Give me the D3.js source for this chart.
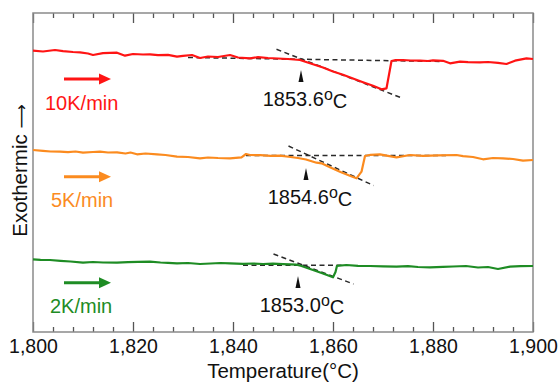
<!DOCTYPE html>
<html>
<head>
<meta charset="utf-8">
<script src="https://cdn.jsdelivr.net/npm/d3@7"></script>
<style>
  body { margin: 0; background: #fff; }
  text { font-family: "Liberation Sans", Arial, sans-serif; }
</style>
</head>
<body>
<svg id="chart"></svg>
<script>
// DSC traces (signal in arbitrary units)
const rate10 = [[1800,28.13],[1802,28.05],[1804.4,28.20],[1806,28.08],[1808,28.0],[1809.4,27.97],[1811,27.85],[1812,27.70],[1814,27.88],[1816.8,27.93],[1818.4,27.63],[1820,27.80],[1822,27.75],[1823.4,27.77],[1825,27.68],[1827,27.72],[1828.8,27.53],[1830,27.62],[1831.8,27.70],[1833.4,27.40],[1835,27.55],[1837,27.50],[1839.4,27.70],[1841,27.45],[1843.4,27.37],[1845,27.48],[1847,27.40],[1849,27.35],[1851,27.30],[1853.4,27.20],[1856,26.78],[1858,26.45],[1860,26.05],[1862,25.72],[1864,25.35],[1866,24.98],[1868,24.62],[1869.7,24.27],[1870.7,24.37],[1871.7,27.10],[1872.5,27.18],[1874,27.20],[1875.5,27.15],[1877.4,27.13],[1879,27.10],[1880,27.17],[1882,27.12],[1883.4,26.87],[1885.4,27.03],[1887,26.98],[1889.4,26.97],[1891,27.0],[1893,26.92],[1894.7,26.80],[1896.4,27.13],[1898.7,27.37],[1900,27.30]];
const rate5 = [[1800,18.20],[1802,18.12],[1803.5,18.05],[1805.4,18.03],[1807,17.98],[1808.5,18.05],[1810,17.93],[1812,18.0],[1813.4,18.03],[1815,17.95],[1816.8,17.97],[1818.5,17.85],[1819.5,17.95],[1820.8,17.77],[1822.5,17.85],[1824.8,17.77],[1826.5,17.70],[1828.8,17.53],[1831,17.50],[1833.4,17.37],[1835,17.45],[1837,17.40],[1839.4,17.37],[1841.7,17.47],[1842.6,17.80],[1843.4,17.70],[1845.5,17.68],[1847.5,17.62],[1849.4,17.63],[1851.5,17.50],[1853,17.40],[1854.6,17.25],[1856.7,16.93],[1857.7,16.87],[1859.5,16.45],[1861.5,16.00],[1863.5,15.60],[1864.7,15.37],[1865.7,16.03],[1866.4,17.60],[1867.5,17.72],[1869.4,17.77],[1871,17.62],[1872.7,17.47],[1875.4,17.70],[1878,17.62],[1881,17.66],[1884.7,17.70],[1886,17.58],[1888,17.50],[1890,17.27],[1892,17.40],[1894,17.37],[1896,17.30],[1898,17.13],[1900,17.20]];
const rate2 = [[1800,7.27],[1801.5,7.22],[1803.4,7.20],[1805.5,7.12],[1807.5,7.05],[1810,6.93],[1812,7.0],[1814,6.95],[1816.8,6.93],[1819,6.98],[1821,7.02],[1823.4,7.03],[1825.5,6.95],[1827,6.92],[1828.8,6.87],[1831,6.90],[1833.4,6.80],[1835.5,6.85],[1837.5,6.90],[1839.4,6.87],[1842,6.82],[1844,6.85],[1846,6.80],[1848,6.83],[1850,6.78],[1852.7,6.73],[1853.7,6.60],[1856,6.20],[1858,5.85],[1860,5.47],[1860.5,6.0],[1860.8,6.62],[1862.7,6.70],[1865,6.62],[1867.4,6.60],[1870,6.57],[1872.7,6.53],[1875,6.58],[1877,6.50],[1879.4,6.47],[1882,6.52],[1884,6.55],[1886.6,6.60],[1889,6.45],[1891,6.50],[1893,6.30],[1895.4,6.53],[1897.5,6.58],[1900,6.60]];

const rateLabels = ["10K/min", "5K/min", "2K/min"];
const onsetTemps = [1853.6, 1854.6, 1853.0];
const onsetLevels = [27.2, 17.4, 6.6];
// dashed construction lines: [[T0, v0], [T1, v1]]
const baselines = [[[1831, 27.45], [1882, 27.05]], [[1842.6, 17.65], [1882.6, 17.65]], [[1842, 6.67], [1862.5, 6.67]]];
const tangents  = [[[1848.7, 28.27], [1873.4, 23.47]], [[1851.1, 18.6], [1868.1, 14.65]], [[1848.1, 7.8], [1864.1, 4.8]]];
const majorTicks = [1800, 1820, 1840, 1860, 1880, 1900];

const series = [rate10, rate5, rate2];
const colors = ["#ff1414", "#fb8b1f", "#1e8c24"];

const width = 560, height = 383;
const plotL = 33, plotR = 533, plotT = 13, plotB = 332;

const svg = d3.select("#chart").attr("width", width).attr("height", height);
const x = d3.scaleLinear().domain([1800, 1900]).range([plotL, plotR]);
const y = d3.scaleLinear().domain([0, 31.9]).range([plotB, plotT]);

const minorTicks = d3.range(1800, 1901, 4).filter(t => !majorTicks.includes(t));

// ticks, pointing inward on both bottom and top
function tickAxis(axis, vals, size, fmt) {
  return axis(x).tickValues(vals).tickSize(-size).tickPadding(7).tickFormat(fmt);
}
const axes = [
  [d3.axisBottom, plotB, majorTicks, 10, d3.format(",")],
  [d3.axisBottom, plotB, minorTicks, 5, ""],
  [d3.axisTop, plotT, majorTicks, 10, ""],
  [d3.axisTop, plotT, minorTicks, 5, ""]
];
axes.forEach(([ax, ypos, vals, size, fmt]) => {
  const g = svg.append("g").attr("transform", "translate(0," + ypos + ")")
    .call(tickAxis(ax, vals, size, fmt));
  g.select(".domain").remove();
  g.selectAll(".tick line").attr("stroke", "#555").attr("stroke-width", 1.3);
  g.selectAll(".tick text").attr("fill", "#111").style("font-size", "19.5px")
    .style("font-family", "'Liberation Sans', Arial, sans-serif");
});

svg.append("rect")
  .attr("x", plotL).attr("y", plotT)
  .attr("width", plotR - plotL).attr("height", plotB - plotT)
  .attr("fill", "none").attr("stroke", "#8a8a8a").attr("stroke-width", 1.5);

svg.append("text")
  .attr("x", (plotL + plotR) / 2).attr("y", 378)
  .attr("text-anchor", "middle").attr("fill", "#111")
  .style("font-size", "20.5px")
  .text("Temperature(°C)");

const ylab = svg.append("text")
  .attr("transform", "translate(27,170.5) rotate(-90)")
  .attr("text-anchor", "middle").attr("fill", "#111")
  .style("font-size", "20.5px");
ylab.append("tspan").text("Exothermic ");
ylab.append("tspan").style("font-family", "'DejaVu Sans', sans-serif").style("font-size", "17px").text("⟶");

const line = d3.line()
  .x(function(d) { return x(d[0]); })
  .y(function(d) { return y(d[1]); });

// per-series layout for the heating-rate arrow and label (pixels)
const arrowY = [79, 176.7, 282.7];
const labelX = [45, 51, 50];
const labelY = [110, 207.3, 312.7];

series.forEach(function(data, i) {
  const c = colors[i];

  [baselines[i], tangents[i]].forEach(function(seg) {
    svg.append("path")
      .attr("fill", "none")
      .attr("stroke", "#2a2a2a")
      .attr("stroke-width", 1.5)
      .attr("stroke-dasharray", "5,3.5")
      .attr("d", line(seg));
  });

  svg.append("path")
    .attr("fill", "none")
    .attr("stroke", c)
    .attr("stroke-width", 2.2)
    .attr("stroke-linejoin", "round")
    .attr("d", line(data));

  // heating-rate arrow
  const ax0 = x(1806.2), ax1 = x(1815.6), ay = arrowY[i];
  svg.append("line")
    .attr("x1", ax0).attr("x2", ax1 - 9).attr("y1", ay).attr("y2", ay)
    .attr("stroke", c).attr("stroke-width", 3);
  svg.append("path")
    .attr("fill", c)
    .attr("d", "M" + ax1 + "," + ay + "L" + (ax1 - 12) + "," + (ay - 5.5) + "L" + (ax1 - 12) + "," + (ay + 5.5) + "Z");

  svg.append("text")
    .attr("x", labelX[i]).attr("y", labelY[i])
    .attr("fill", c).style("font-size", "20px")
    .text(rateLabels[i]);

  // onset marker and value
  const ox = x(onsetTemps[i]), oy = y(onsetLevels[i]) + 10;
  svg.append("path")
    .attr("fill", "#111")
    .attr("d", "M" + ox + "," + oy + "L" + (ox - 2.5) + "," + (oy + 12) + "L" + (ox + 2.5) + "," + (oy + 12) + "Z");

  const t = svg.append("text")
    .attr("x", ox + 4).attr("y", oy + 36)
    .attr("text-anchor", "middle").attr("fill", "#111")
    .style("font-size", "20px");
  t.append("tspan").text(d3.format(".1f")(onsetTemps[i]));
  t.append("tspan").attr("dy", "-0.4em").style("font-size", "16px").text("o");
  t.append("tspan").attr("dy", "0.4em").text("C");
});
</script>
</body>
</html>
